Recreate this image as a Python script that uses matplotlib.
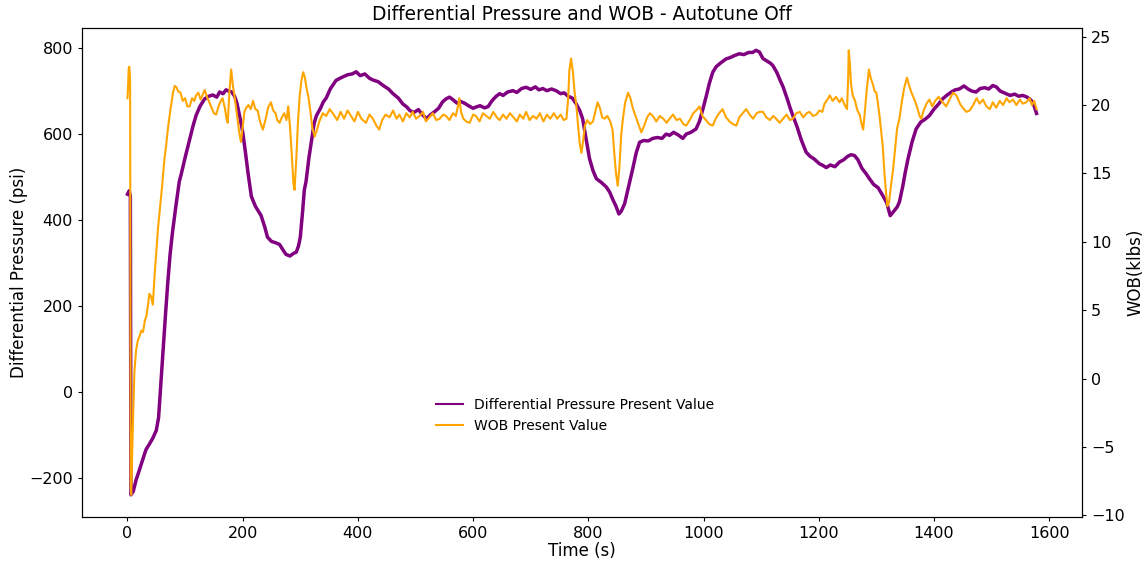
import matplotlib
matplotlib.use('Agg')
import matplotlib.pyplot as plt

# Differential pressure (psi)
dpTime = [0, 3, 5, 6, 10, 15, 20, 26, 32, 38, 44, 50, 54, 58, 62, 66, 70, 74, 78, 84, 90, 93, 100, 108, 114, 119, 126,
          134, 141, 148, 155, 160, 166, 171, 176, 181, 186, 190, 195, 200, 205, 209, 215, 222, 232, 238, 243, 250, 257,
          264, 270, 275, 282, 288, 293, 297, 300, 304, 307, 310, 315, 319, 324, 328, 335, 340, 345, 352, 362, 372, 382,
          390, 397, 404, 412, 420, 426, 435, 445, 453, 461, 470, 478, 485, 490, 497, 505, 512, 519, 526, 533, 540, 547,
          553, 559, 565, 572, 578, 585, 592, 600, 605, 612, 620, 626, 633, 640, 646, 652, 660, 669, 676, 684, 692, 700,
          708, 714, 721, 728, 736, 744, 752, 758, 765, 772, 779, 785, 790, 796, 802, 808, 814, 822, 831, 837, 842, 848,
          853, 857, 863, 870, 877, 883, 889, 896, 904, 912, 920, 928, 935, 941, 948, 956, 964, 970, 978, 987, 993, 999,
          1005, 1010, 1016, 1022, 1030, 1039, 1046, 1054, 1062, 1070, 1078, 1085, 1091, 1097, 1103, 1110, 1116, 1120,
          1127, 1133, 1138, 1145, 1150, 1155, 1162, 1170, 1178, 1185, 1192, 1201, 1207, 1213, 1220, 1228, 1236, 1243,
          1250, 1256, 1262, 1268, 1275, 1282, 1288, 1295, 1303, 1311, 1318, 1324, 1330, 1336, 1340, 1346, 1350, 1355,
          1362, 1369, 1377, 1385, 1392, 1400, 1408, 1415, 1422, 1430, 1437, 1444, 1452, 1460, 1466, 1473, 1480, 1488,
          1495, 1502, 1508, 1515, 1520, 1525, 1532, 1540, 1547, 1554, 1560, 1566, 1570, 1574, 1578]
dpValue = [460, 468, 455, -240, -232, -205, -185, -160, -135, -122, -108, -90, -60, 20, 100, 180, 255, 320, 370, 432, 490,
           505, 545, 588, 620, 643, 665, 682, 688, 691, 686, 698, 694, 703, 700, 698, 688, 672, 640, 605, 555, 512, 455,
           432, 410, 385, 360, 350, 347, 343, 330, 320, 316, 322, 325, 340, 360, 420, 470, 490, 545, 580, 625, 643, 660,
           675, 684, 705, 725, 732, 738, 740, 745, 736, 740, 730, 726, 722, 712, 705, 694, 684, 670, 663, 655, 650, 657,
           645, 636, 645, 652, 660, 675, 682, 686, 680, 672, 676, 672, 666, 660, 663, 666, 661, 664, 678, 688, 694, 690,
           698, 701, 697, 706, 709, 704, 710, 703, 706, 701, 705, 701, 694, 696, 688, 684, 670, 655, 636, 590, 543, 515,
           496, 488, 477, 465, 449, 432, 414, 420, 438, 478, 519, 556, 581, 585, 584, 590, 592, 590, 600, 597, 604, 598,
           590, 600, 604, 612, 630, 659, 690, 718, 744, 757, 766, 775, 778, 783, 787, 785, 790, 790, 795, 791, 776, 770,
           765, 760, 744, 725, 710, 683, 662, 643, 618, 585, 558, 548, 542, 531, 527, 522, 528, 524, 535, 540, 548, 552,
           550, 540, 520, 508, 496, 483, 475, 457, 440, 410, 420, 430, 442, 480, 510, 543, 582, 612, 628, 635, 643, 658,
           670, 682, 690, 698, 703, 705, 712, 704, 700, 698, 706, 708, 705, 713, 710, 700, 697, 694, 690, 693, 688, 690,
           687, 682, 676, 665, 648]

# WOB (klbs)
wobTime = [0, 1, 2, 3, 4, 4.6, 5.5, 6.5, 9, 12, 15, 18, 21, 24, 27, 30, 33, 36, 38, 41, 44, 47, 50, 53, 56, 60, 64, 67,
           70, 74, 79, 82, 85, 88, 92, 96, 100, 104, 108, 112, 116, 119, 123, 127, 131, 134, 138, 142, 145, 150, 154,
           158, 162, 165, 169, 172, 174, 177, 180, 183, 186, 190, 194, 197, 200, 203, 206, 210, 214, 218, 222, 226, 230,
           235, 240, 244, 249, 253, 257, 260, 264, 268, 272, 276, 279, 282, 285, 288, 290, 293, 296, 299, 302, 305, 308,
           311, 314, 317, 321, 325, 329, 333, 339, 345, 351, 358, 364, 370, 376, 382, 388, 394, 400, 406, 414, 420, 426,
           432, 437, 442, 448, 455, 461, 467, 472, 478, 484, 490, 495, 501, 507, 513, 518, 524, 530, 536, 542, 548, 553,
           559, 565, 570, 574, 576, 579, 583, 588, 594, 600, 605, 611, 617, 623, 629, 635, 641, 646, 652, 658, 664, 670,
           676, 681, 687, 692, 698, 704, 710, 716, 722, 728, 734, 740, 746, 752, 757, 762, 765, 767, 770, 773, 776, 779,
           782, 785, 788, 791, 794, 798, 803, 808, 812, 816, 820, 824, 828, 833, 838, 842, 845, 848, 851, 854, 857, 860,
           864, 869, 873, 877, 881, 886, 892, 897, 902, 907, 912, 918, 924, 930, 936, 941, 947, 953, 959, 965, 970, 976,
           982, 987, 993, 998, 1004, 1010, 1016, 1021, 1027, 1033, 1039, 1045, 1051, 1057, 1062, 1068, 1074, 1080, 1086,
           1092, 1097, 1103, 1109, 1115, 1121, 1126, 1132, 1138, 1144, 1150, 1155, 1161, 1167, 1173, 1179, 1184, 1190,
           1196, 1201, 1206, 1210, 1215, 1219, 1224, 1230, 1236, 1240, 1245, 1249, 1251, 1252, 1254, 1256, 1259, 1263,
           1267, 1271, 1274, 1277, 1280, 1283, 1287, 1290, 1294, 1297, 1300, 1303, 1306, 1308.5, 1311, 1314, 1317, 1319,
           1322, 1325, 1329, 1333, 1336, 1340, 1344, 1348, 1353, 1357, 1361, 1366, 1371, 1375, 1378, 1382, 1387, 1392,
           1397, 1402, 1408, 1415, 1421, 1427, 1433, 1439, 1445, 1450, 1456, 1462, 1468, 1474, 1479, 1485, 1491, 1497,
           1502, 1508, 1514, 1520, 1526, 1531, 1537, 1543, 1549, 1554, 1560, 1566, 1570, 1574, 1578]
wobValue = [20.5, 21.3, 22.6, 22.8, 22.3, 21.5, -8.0, -8.5, -4.0, 0.5, 2.1, 2.8, 3.1, 3.5, 3.4, 4.2, 4.6, 5.5, 6.2, 6.0,
            5.4, 7.5, 9.2, 11.0, 12.3, 14.0, 16.0, 17.0, 18.2, 19.5, 20.9, 21.4, 21.3, 21.0, 20.9, 20.3, 20.5, 19.9,
            19.9, 20.5, 20.3, 20.7, 20.9, 20.4, 20.8, 21.1, 20.6, 20.2, 19.9, 19.4, 19.3, 19.9, 20.3, 20.5, 19.8, 19.0,
            18.7, 21.0, 22.6, 21.4, 20.6, 19.3, 18.0, 17.3, 18.4, 19.5, 19.8, 20.0, 19.7, 20.3, 19.7, 19.6, 18.8, 18.2,
            19.0, 19.8, 20.2, 19.6, 19.4, 18.9, 18.7, 19.1, 19.4, 18.9, 19.9, 18.5, 16.5, 14.3, 13.8, 16.0, 18.8, 20.7,
            21.8, 22.4, 22.0, 21.2, 20.6, 19.7, 18.3, 17.7, 18.2, 18.8, 19.4, 19.2, 19.7, 19.3, 18.9, 19.5, 19.0, 19.6,
            19.2, 18.8, 19.5, 19.0, 18.7, 19.3, 19.0, 18.5, 18.2, 18.9, 19.3, 19.1, 19.6, 19.0, 19.3, 18.8, 19.4, 19.1,
            19.5, 19.0, 19.2, 19.5, 18.8, 19.1, 19.4, 18.9, 19.0, 19.3, 19.2, 18.9, 19.4, 19.2, 20.0, 20.5, 19.5, 19.0,
            18.8, 18.7, 19.3, 19.2, 18.8, 19.4, 19.2, 19.0, 19.5, 19.1, 18.9, 19.3, 19.0, 19.4, 19.1, 18.8, 19.3, 19.0,
            19.5, 18.9, 19.2, 19.0, 19.4, 18.8, 19.3, 19.0, 19.4, 19.0, 19.3, 18.9, 19.0, 20.5, 22.5, 23.4, 22.5, 21.0,
            20.0, 18.6, 17.2, 16.5, 17.4, 18.5, 18.9, 18.6, 18.8, 19.5, 20.2, 19.8, 19.1, 19.0, 19.2, 18.8, 18.2, 16.5,
            15.0, 14.1, 15.5, 17.8, 19.0, 20.2, 20.9, 20.5, 19.8, 19.3, 18.7, 18.0, 18.5, 19.1, 19.4, 19.2, 18.8, 19.2,
            19.0, 18.7, 19.0, 19.3, 18.9, 19.0, 18.6, 18.5, 18.9, 19.4, 19.6, 19.9, 19.2, 18.9, 18.6, 18.5, 19.0, 19.4,
            19.7, 19.1, 18.8, 18.6, 18.5, 19.1, 19.4, 19.7, 19.3, 19.0, 19.4, 19.5, 19.5, 19.1, 18.9, 19.2, 19.0, 18.7,
            19.0, 19.3, 18.9, 19.0, 19.4, 19.5, 19.1, 19.4, 19.5, 19.2, 19.3, 19.6, 19.5, 20.1, 20.4, 20.7, 20.3, 20.6,
            20.2, 20.5, 20.0, 19.7, 22.0, 24.0, 23.0, 21.5, 20.7, 20.3, 19.6, 19.3, 18.7, 18.2, 19.5, 21.0, 22.6, 22.0,
            21.5, 21.0, 20.9, 20.0, 19.0, 18.0, 17.0, 15.0, 13.5, 12.6, 12.9, 14.0, 15.3, 17.0, 18.3, 19.0, 20.2, 21.2,
            22.0, 21.4, 20.9, 20.4, 19.8, 19.2, 19.0, 19.6, 20.1, 20.4, 19.9, 20.3, 20.6, 20.2, 19.9, 20.4, 20.9, 20.7,
            20.1, 19.8, 19.5, 19.6, 20.0, 20.5, 20.1, 20.4, 19.9, 19.7, 20.2, 19.8, 20.3, 20.0, 20.5, 20.2, 20.4, 20.0,
            20.4, 20.1, 20.2, 20.5, 20.0, 20.3, 19.7]

plt.rcParams['font.family'] = 'DejaVu Sans'

fig, ax1 = plt.subplots(figsize=(11.44, 5.62), dpi=100)
fig.subplots_adjust(left=0.0717, right=0.9458, top=0.950, bottom=0.080)

lineaDP, = ax1.plot(dpTime, dpValue, color='purple', linewidth=2.5, label='Differential Pressure Present Value')
ax1.set_xlabel('Time (s)', fontsize=12, labelpad=1)
ax1.set_ylabel('Differential Pressure (psi)', fontsize=12, labelpad=1)
ax1.tick_params(labelsize=11.5, length=3)

ax2 = ax1.twinx()
lineaWOB, = ax2.plot(wobTime, wobValue, color='orange', linewidth=1.5, label='WOB Present Value')
ax2.set_ylabel('WOB(klbs)', fontsize=12, labelpad=1)
ax2.tick_params(labelsize=11.5, length=3)

ax1.set_title('Differential Pressure and WOB - Autotune Off', fontsize=13.4)
leg = ax1.legend([lineaDP, lineaWOB], [lineaDP.get_label(), lineaWOB.get_label()],
                 loc='center', bbox_to_anchor=(0.493, 0.207), frameon=False, fontsize=10)
for h in leg.get_lines():
    h.set_linewidth(1.5)

plt.savefig('out.png', dpi=100)
